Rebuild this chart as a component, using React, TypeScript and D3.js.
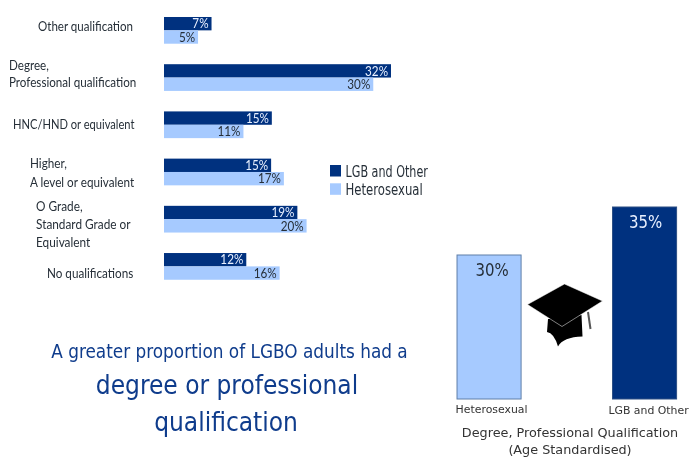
import { scaleBand, scaleLinear } from "d3";

const CATEGORIES = [
  ["Other qualification"],
  ["Degree,", "Professional qualification"],
  ["HNC/HND or equivalent"],
  ["Higher,", "A level or equivalent"],
  ["O Grade,", "Standard Grade or", "Equivalent"],
  ["No qualifications"],
];
const CATEGORY_KEYS = CATEGORIES.map((c) => c.join(" "));
const SERIES = ["LGB and Other", "Heterosexual"];
const LGB_VALUES = [6.7, 32, 15.2, 15.1, 18.8, 11.6];
const HETERO_VALUES = [4.8, 29.5, 11.2, 16.9, 20.1, 16.3];

const AGE_LABELS = ["Heterosexual", "LGB and Other"];
const AGE_VALUES = [30, 35];

const DARK = "#00317f";
const LIGHT = "#a6caff";
const TEXT = "#262f38";
const HEAD = "#0f3c8c";
const NARROW = "Lato, 'Open Sans', sans-serif";
const WIDE = "'DejaVu Sans', sans-serif";

const x = scaleLinear().domain([0, 32]).range([164, 391]);
const y = scaleBand<string>()
  .domain(CATEGORY_KEYS)
  .range([6.75, 290])
  .paddingInner(0.434)
  .paddingOuter(0.217);
const ySeries = scaleBand<string>().domain(SERIES).range([0, y.bandwidth()]);

const x2 = scaleBand<string>()
  .domain(AGE_LABELS)
  .range([411.3, 722.3])
  .paddingInner(0.588)
  .paddingOuter(0.294);
const y2 = scaleLinear().domain([15, 35]).range([399, 207]);

// the category labels were placed by hand in the original
const labelX = [38, 9, 13, 30, 36, 47];
const labelY = [31.5, 70, 129.5, 168, 211, 278];
const labelGap = [0, 17.5, 0, 19, 17.8, 0];
const labelSqueeze = [0.905, 0.91, 0.87, 0.915, 0.925, 0.915];

const Bars = () => (
  <g>
    {CATEGORIES.map((lines, i) => {
      const key = CATEGORY_KEYS[i];
      const top = y(key) as number;
      return (
        <g key={key}>
          <text
            transform={`translate(${labelX[i]},0) scale(${labelSqueeze[i]},1)`}
            fontFamily={NARROW}
            fontSize={12.8}
            fill={TEXT}
          >
            {lines.map((line, j) => (
              <tspan key={j} x={0} y={labelY[i] + j * labelGap[i]}>
                {line}
              </tspan>
            ))}
          </text>
          {SERIES.map((s, k) => {
            const v = k === 0 ? LGB_VALUES[i] : HETERO_VALUES[i];
            const by = top + (ySeries(s) as number);
            return (
              <g key={s}>
                <rect
                  x={x(0)}
                  y={by}
                  width={x(v) - x(0)}
                  height={ySeries.bandwidth()}
                  fill={k === 0 ? DARK : LIGHT}
                />
                <text
                  transform={`translate(${x(v) - 3},${by + ySeries.bandwidth() - 2}) scale(0.9,1)`}
                  textAnchor="end"
                  fontFamily={NARROW}
                  fontSize={13}
                  fill={k === 0 ? "#e8f0ff" : TEXT}
                >
                  {Math.round(v)}%
                </text>
              </g>
            );
          })}
        </g>
      );
    })}
  </g>
);

const Legend = () => (
  <g>
    {SERIES.map((s, i) => (
      <g key={s} transform={`translate(330,${165 + i * 18.3})`}>
        <rect width={11} height={11.5} fill={i === 0 ? DARK : LIGHT} />
        <text
          transform={`translate(15.5,11.5) scale(${i === 0 ? 0.745 : 0.78},1)`}
          fontFamily={WIDE}
          fontSize={15}
          fill={TEXT}
        >
          {s}
        </text>
      </g>
    ))}
  </g>
);

const AgeBars = () => (
  <g>
    {AGE_LABELS.map((s, i) => {
      const bx = x2(s) as number;
      const cx = bx + x2.bandwidth() / 2;
      const top = y2(AGE_VALUES[i]);
      return (
        <g key={s}>
          <rect
            x={bx}
            y={top}
            width={x2.bandwidth()}
            height={y2(15) - top}
            fill={i === 0 ? LIGHT : DARK}
            stroke={i === 0 ? "#5f7fa8" : "#2c4f84"}
            strokeWidth={1}
          />
          <text
            transform={`translate(${cx + (i === 0 ? 3 : 1)},${top + 20.5}) scale(0.88,1)`}
            textAnchor="middle"
            fontFamily={WIDE}
            fontSize={17}
            fill={i === 0 ? TEXT : "#e8f0ff"}
          >
            {AGE_VALUES[i]}%
          </text>
          <text
            x={i === 0 ? cx + 2.5 : cx + 4}
            y={i === 0 ? 413 : 414}
            textAnchor="middle"
            fontFamily={WIDE}
            fontSize={10.9}
            fill="#333"
          >
            {s}
          </text>
        </g>
      );
    })}
    <text textAnchor="middle" fontFamily={WIDE} fontSize={12.8} fill="#333">
      <tspan x={570} y={437}>
        Degree, Professional Qualification
      </tspan>
      <tspan x={570} y={454}>
        (Age Standardised)
      </tspan>
    </text>
  </g>
);

const Cap = () => (
  <g>
    <path
      d="M548 319 L547 332 Q554 333 558 346.5 Q563 337 582.5 336.5 L581.5 315 Z"
      fill="#000"
    />
    <path
      d="M527.5 304.5 L564.5 284 L602.5 301 L562 326.5 Z"
      fill="#000"
      stroke="#fff"
      strokeWidth={0.5}
    />
    <path d="M588 312 L590.5 329" stroke="#555" strokeWidth={2} fill="none" />
  </g>
);

const Headline = () => (
  <text textAnchor="middle" fontFamily={WIDE} fill={HEAD} style={{ fontStretch: "condensed" }}>
    <tspan x={229.5} y={358} fontSize={18.8}>
      A greater proportion of LGBO adults had a
    </tspan>
    <tspan x={227} y={394} fontSize={26}>
      degree or professional
    </tspan>
    <tspan x={226} y={431} fontSize={26}>
      qualification
    </tspan>
  </text>
);

export default function App() {
  return (
    <svg
      width={699}
      height={471}
      style={{
        position: "absolute",
        left: 0,
        top: 0,
        background: "#fff",
        filter: "blur(0.35px)",
      }}
    >
      <Bars />
      <Legend />
      <Headline />
      <AgeBars />
      <Cap />
    </svg>
  );
}
